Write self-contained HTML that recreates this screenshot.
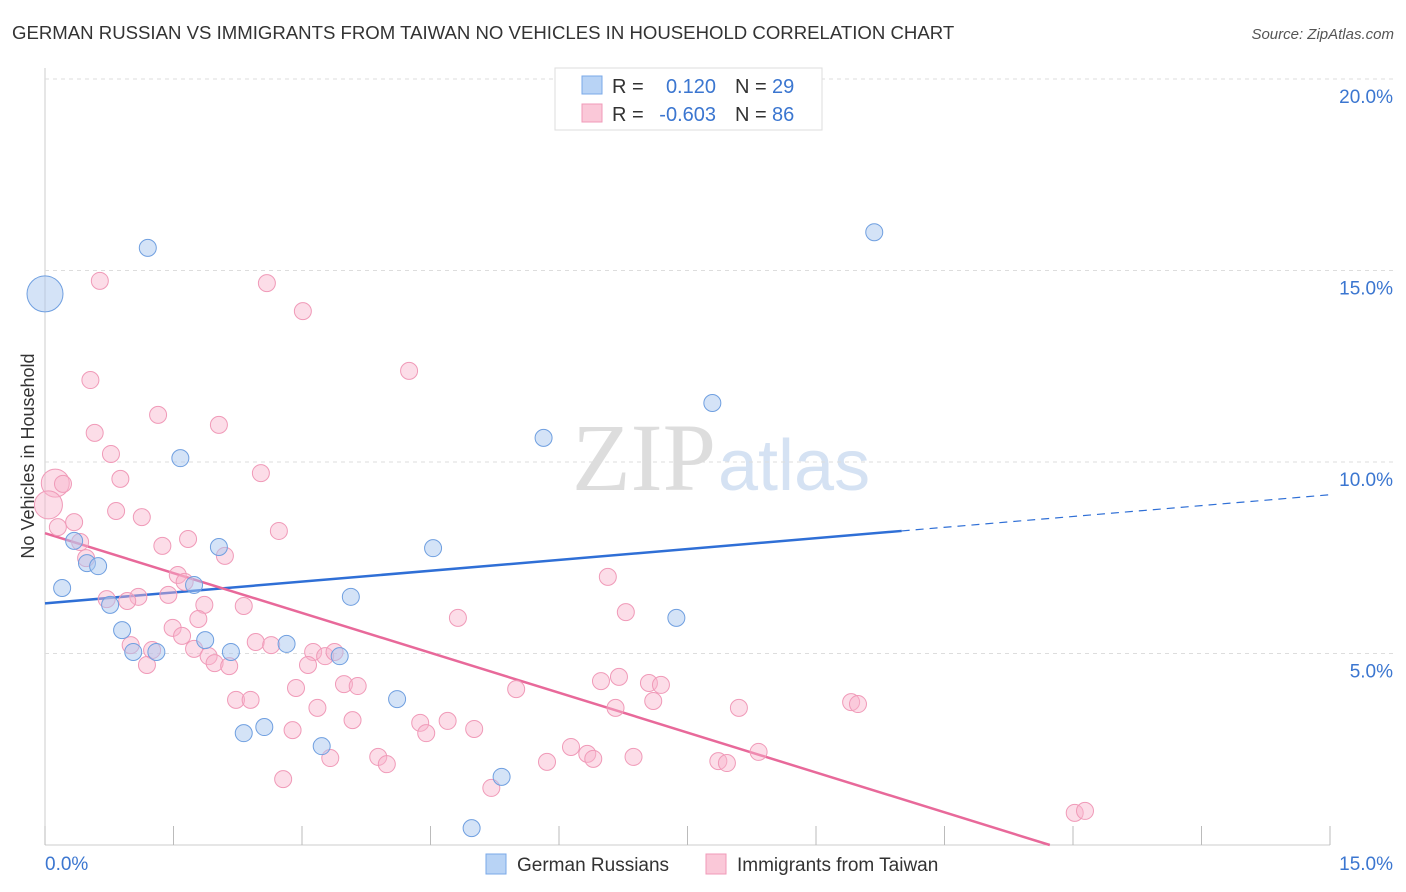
<!DOCTYPE html>
<html><head><meta charset="utf-8"><style>
body{margin:0;background:#fff;font-family:"Liberation Sans",sans-serif}
svg{display:block}
</style></head><body>
<svg id="c" width="1406" height="892" font-family="Liberation Sans, sans-serif">
<text x="12" y="39" font-size="18.6" fill="#333">GERMAN RUSSIAN VS IMMIGRANTS FROM TAIWAN NO VEHICLES IN HOUSEHOLD CORRELATION CHART</text>
<text x="1394" y="39" font-size="15" fill="#555" font-style="italic" text-anchor="end">Source: ZipAtlas.com</text>
<text x="716" y="490" font-size="96" fill="#ddd" text-anchor="end" font-family="Liberation Serif, serif">ZIP</text>
<text x="718" y="490" font-size="72" fill="#d5e2f3">atlas</text>
<text transform="translate(34,456) rotate(-90)" font-size="18" fill="#333" text-anchor="middle">No Vehicles in Household</text>
<g id="grid"></g><g id="lines"></g><g id="pts"></g>
<g>
<rect x="555" y="68" width="267" height="62" fill="#fff" stroke="#ddd"/>
<rect x="582" y="76" width="20" height="18" fill="#b8d3f5" stroke="#7aa8e8"/>
<rect x="582" y="104" width="20" height="18" fill="#fac8d8" stroke="#f09ab8"/>
<text x="612" y="93" font-size="20" fill="#333">R =</text><text x="716" y="93" font-size="20" fill="#3b76d0" text-anchor="end">0.120</text>
<text x="735" y="93" font-size="20" fill="#333">N =</text><text x="772" y="93" font-size="20" fill="#3b76d0">29</text>
<text x="612" y="121" font-size="20" fill="#333">R =</text><text x="716" y="121" font-size="20" fill="#3b76d0" text-anchor="end">-0.603</text>
<text x="735" y="121" font-size="20" fill="#333">N =</text><text x="772" y="121" font-size="20" fill="#3b76d0">86</text>
</g>
<g>
<rect x="486" y="854" width="20" height="20" fill="#b8d3f5" stroke="#7aa8e8"/>
<text x="517" y="871" font-size="19" fill="#333">German Russians</text>
<rect x="706" y="854" width="20" height="20" fill="#fac8d8" stroke="#f09ab8"/>
<text x="737" y="871" font-size="19" fill="#333">Immigrants from Taiwan</text>
</g>
</svg>
<script>
const xTicks=[0,1.5,3,4.5,6,7.5,9,10.5,12,13.5,15];
const yTicks=[5,10,15,20];
const blueX=[0,1.2,9.68,7.79,5.82,1.58,4.53,2.03,0.34,0.49,0.62,0.2,1.74,0.76,3.57,7.37,0.9,1.87,2.82,2.17,1.03,1.3,3.44,4.11,2.56,2.32,3.23,5.33,4.98];
const blueY=[14.39,15.59,16.0,11.54,10.63,10.1,7.75,7.78,7.94,7.36,7.28,6.71,6.79,6.27,6.48,5.93,5.61,5.35,5.25,5.04,5.04,5.04,4.93,3.81,3.08,2.92,2.58,1.78,0.44];
const pinkX=[0.64,2.59,3.01,0.53,4.25,1.32,0.58,2.03,0.77,0.88,2.52,0.12,0.21,0.04,0.83,1.13,0.34,0.15,2.73,1.67,1.37,0.41,2.1,0.48,1.55,6.57,1.63,1.09,0.96,0.72,1.44,1.86,2.32,6.78,1.79,4.82,1.49,1.6,1.0,2.46,2.64,1.25,1.74,3.13,3.27,3.38,1.91,1.98,2.15,1.19,3.07,6.7,6.49,7.05,7.19,3.49,3.65,2.93,5.5,2.23,2.4,7.1,9.41,9.49,3.18,6.66,8.1,3.59,4.38,4.7,2.89,4.45,5.01,6.14,6.33,6.4,3.33,3.89,6.87,8.33,7.86,7.96,3.99,5.86,2.78,5.21,12.02,12.14];
const pinkY=[14.73,14.67,13.94,12.14,12.38,11.23,10.76,10.97,10.21,9.56,9.71,9.45,9.43,8.88,8.72,8.56,8.43,8.3,8.2,7.99,7.81,7.91,7.55,7.49,7.05,7.0,6.87,6.48,6.37,6.42,6.53,6.27,6.24,6.08,5.9,5.93,5.67,5.46,5.22,5.3,5.22,5.09,5.12,5.04,4.93,5.04,4.93,4.75,4.67,4.7,4.7,4.39,4.28,4.23,4.18,4.2,4.15,4.1,4.07,3.79,3.79,3.76,3.73,3.68,3.58,3.58,3.58,3.26,3.19,3.24,3.0,2.92,3.03,2.56,2.38,2.25,2.27,2.3,2.3,2.43,2.19,2.14,2.11,2.17,1.72,1.49,0.84,0.89];
const bigBlue=[0];const bigPink=[11,13];
const blueFit=[6.31,0.189];
const pinkFit=[8.14,-0.694];
const X=v=>45+v*1285/15, Y=v=>845-v*38.3;
const NS='http://www.w3.org/2000/svg';
function mk(tag,attrs,parent){const e=document.createElementNS(NS,tag);for(const k in attrs)e.setAttribute(k,attrs[k]);document.getElementById(parent).appendChild(e);return e;}
let e=mk('line',{x1:45,y1:68,x2:45,y2:845,stroke:'#ccc'},'grid');


e=mk('line',{x1:45,y1:845,x2:1330,y2:845,stroke:'#ccc'},'grid');


yTicks.forEach(t=>{
 e=mk('line',{x1:45,y1:Y(t),x2:1394,y2:Y(t),stroke:'#ddd','stroke-dasharray':'4,4'},'grid');
 
 
 e=mk('text',{x:1393,y:Y(t)+24,'font-size':19,fill:'#3b76d0','text-anchor':'end'},'grid');
 e.textContent=t.toFixed(1)+'%';
 
 
});
xTicks.forEach(t=>{
 e=mk('line',{x1:X(t),y1:826,x2:X(t),y2:845,stroke:'#bbb'},'grid');
 
 
});
[[0,'start',45],[15,'end',1393]].forEach(a=>{
 e=mk('text',{x:a[2],y:870,'font-size':19,fill:'#3b76d0','text-anchor':a[1]},'grid');
 e.textContent=a[0].toFixed(1)+'%';
 
 
});
const bx=10;
e=mk('line',{x1:X(0),y1:Y(blueFit[0]),x2:X(bx),y2:Y(blueFit[0]+blueFit[1]*bx),stroke:'#2f6fd6','stroke-width':2.5},'lines');


e=mk('line',{x1:X(bx),y1:Y(blueFit[0]+blueFit[1]*bx),x2:X(15),y2:Y(blueFit[0]+blueFit[1]*15),stroke:'#2f6fd6','stroke-width':1.2,'stroke-dasharray':'8,6'},'lines');


const px=-pinkFit[0]/pinkFit[1];
e=mk('line',{x1:X(0),y1:Y(pinkFit[0]),x2:X(px),y2:Y(0),stroke:'#e8699a','stroke-width':2.5},'lines');


pinkX.forEach((v,i)=>{
 e=mk('circle',{cx:X(v),cy:Y(pinkY[i]),r:bigPink.includes(i)?14:8.5,fill:'rgba(248,180,204,0.45)',stroke:'#f09ab8','stroke-width':1},'pts');
 
 
});
blueX.forEach((v,i)=>{
 e=mk('circle',{cx:X(v),cy:Y(blueY[i]),r:bigBlue.includes(i)?18:8.5,fill:'rgba(170,200,240,0.5)',stroke:'#6f9fe0','stroke-width':1},'pts');
 
 
});
</script>
</body></html>
